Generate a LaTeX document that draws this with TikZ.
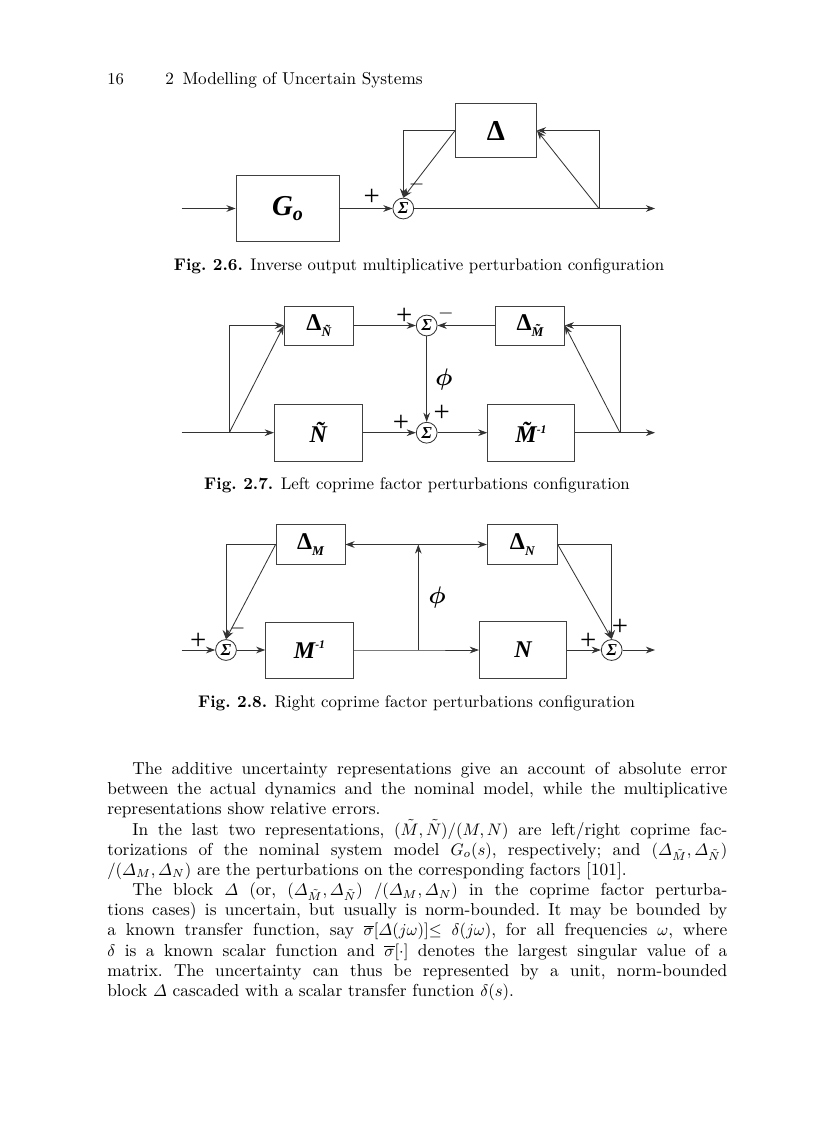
\documentclass[tikz,border=0pt]{standalone}
\usepackage{amsmath,amssymb,bm}
\usepackage{fontspec}
\newfontfamily\dfont{Liberation Serif}
\usepackage{tikz}
\usetikzlibrary{arrows.meta,positioning,calc}

\begin{document}
\begin{tikzpicture}[x=0.6pt,y=-0.6pt,>={Stealth[length=5.5pt,width=4pt]},
 sig/.style={line width=0.5pt,draw=black!80},
 blk/.style={draw=black!75,line width=0.5pt,inner sep=0pt,font=\dfont\bfseries},
 sumnode/.style={circle,draw=black!80,line width=0.5pt,minimum size=12.5pt,inner sep=0pt,font=\dfont\bfseries\itshape\normalsize},
 sgn/.style={font=\dfont\large,inner sep=0pt},
 figcap/.style={font=\fontsize{10.1}{12}\selectfont,inner sep=0pt,anchor=base}]
 \fill[white] (0,0) rectangle (816,1123);
 \useasboundingbox (0,0) rectangle (816,1123);
 % running head
 \node[anchor=base west,inner sep=0pt] (pgno) at (107,84) {16};
 \node[anchor=base west,inner sep=0pt,font=\fontsize{10.3}{12}\selectfont] (head) at (165,84) {2\enspace Modelling of Uncertain Systems};

 % Fig. 2.6
 \node[blk,minimum width=61.8pt,minimum height=40pt] (Go) at (287.5,208.5) {\itshape\LARGE G\raisebox{-0.35ex}{\large o}};
 \node[blk,minimum width=48.6pt,minimum height=32.6pt] (Dl) at (496,130.5) {\LARGE Δ};
 \node[sumnode] (s1) at (403.3,208.5) {Σ};
 \coordinate (in1) at (181.7,208.5);
 \coordinate (br1) at (599,208.5);
 \coordinate (out1) at (655,208.5);
 \draw[sig,->] (in1) -- (Go);
 \draw[sig,->] (Go) -- (s1);
 \draw[sig,->] (s1) -- (br1) -- (out1);
 \draw[sig,->] (br1) |- (Dl.east);
 \draw[sig,->] (br1) -- (Dl.east);
 \draw[sig,->] (Dl.west) -| (s1.north);
 \draw[sig,->] (Dl.west) -- (s1.north);
 \node[sgn] (p1) at (371.7,197.7) {\LARGE +};
 \node[sgn] (m1) at (416.7,184) {$-$};
 \node[figcap] (cap1) at (419,270) {\textbf{Fig.\ 2.6.} Inverse output multiplicative perturbation configuration};

 % Fig. 2.7
 \node[blk,minimum width=41.4pt,minimum height=23.4pt] (DNt) at (318.8,325.5) {\Large Δ\raisebox{-0.5ex}{\footnotesize\itshape\~{N}}};
 \node[blk,minimum width=41.2pt,minimum height=23.4pt] (DMt) at (530,325.5) {\Large Δ\raisebox{-0.5ex}{\footnotesize\itshape\~{M}}};
 \node[blk,minimum width=52.8pt,minimum height=34pt] (Nt) at (318.3,432.7) {\Large\itshape\~{N}};
 \node[blk,minimum width=52pt,minimum height=34pt] (Mti) at (531,432.7) {\Large\itshape\~{M}\raisebox{0.9ex}{\scriptsize -1}};
 \node[sumnode] (s2) at (426.7,325.5) {Σ};
 \node[sumnode] (s3) at (426.7,432.7) {Σ};
 \coordinate (in2) at (181.7,432.7);
 \coordinate (br2) at (229.3,432.7);
 \coordinate (br3) at (620,432.7);
 \coordinate (out2) at (655,432.7);
 \draw[sig] (in2) -- (br2);
 \draw[sig,->] (br2) -- (Nt);
 \draw[sig,->] (br2) |- (DNt.west);
 \draw[sig,->] (br2) -- (DNt.west);
 \draw[sig,->] (DNt) -- (s2);
 \draw[sig,->] (DMt) -- (s2);
 \draw[sig,->] (s2) -- node[right=5pt,inner sep=0pt] (phi1) {\Large$\bm{\phi}$} (s3);
 \draw[sig,->] (Nt) -- (s3);
 \draw[sig,->] (s3) -- (Mti);
 \draw[sig,->] (Mti) -- (br3) -- (out2);
 \draw[sig,->] (br3) |- (DMt.east);
 \draw[sig,->] (br3) -- (DMt.east);
 \node[sgn] (p2) at (404.3,316.7) {\LARGE +};
 \node[sgn] (m2) at (446,313) {$-$};
 \node[sgn] (p3) at (441.7,413.3) {\LARGE +};
 \node[sgn] (p4) at (401,423.3) {\LARGE +};
 \node[figcap] (cap2) at (417,489) {\textbf{Fig.\ 2.7.} Left coprime factor perturbations configuration};

 % Fig. 2.8
 \node[blk,minimum width=41.4pt,minimum height=23.6pt] (DM) at (310.5,544.5) {\Large Δ\raisebox{-0.5ex}{\footnotesize\itshape M}};
 \node[blk,minimum width=42pt,minimum height=23.6pt] (DN) at (522.3,544.5) {\Large Δ\raisebox{-0.5ex}{\footnotesize\itshape N}};
 \node[blk,minimum width=52.6pt,minimum height=33.6pt] (Mi) at (309.5,650) {\Large\itshape M\raisebox{0.9ex}{\scriptsize -1}};
 \node[blk,minimum width=52.4pt,minimum height=34.2pt] (Nn) at (523,650) {\Large\itshape N};
 \node[sumnode] (s4) at (226,650) {Σ};
 \node[sumnode] (s5) at (611.7,650) {Σ};
 \coordinate (in3) at (181.7,650);
 \coordinate (br4) at (418.3,650);
 \coordinate (tp) at (418.3,544.5);
 \coordinate (out3) at (655,650);
 \draw[sig,->] (in3) -- (s4);
 \draw[sig,->] (s4) -- (Mi);
 \draw[sig,->] (Mi) -- (br4) -- (Nn);
 \draw[sig,->] (br4) -- node[right=6pt,inner sep=0pt] (phi2) {\Large$\bm{\phi}$} (tp);
 \draw[sig,->] (tp) -- (DM);
 \draw[sig,->] (tp) -- (DN);
 \draw[sig,->] (DM.west) -| (s4.north);
 \draw[sig,->] (DM.west) -- (s4.north);
 \draw[sig,->] (DN.east) -| (s5.north);
 \draw[sig,->] (DN.east) -- (s5.north);
 \draw[sig,->] (Nn) -- (s5);
 \draw[sig,->] (s5) -- (out3);
 \node[sgn] (p5) at (198.3,641.7) {\LARGE +};
 \node[sgn] (m3) at (237.7,628.3) {$-$};
 \node[sgn] (p6) at (620,627.7) {\LARGE +};
 \node[sgn] (p7) at (588.3,641) {\LARGE +};
 \node[figcap] (cap3) at (416.5,707) {\textbf{Fig.\ 2.8.} Right coprime factor perturbations configuration};

 % body text
 \node[anchor=north west,inner sep=0pt,text width=372pt,align=justify,font=\fontsize{10.4}{12.1}\selectfont] (body) at (107,762) {%
  \frenchspacing\setlength{\parindent}{15pt}\indent
  The additive uncertainty representations give an account of absolute error\linebreak
  between the actual dynamics and the nominal model, while the multiplicative\linebreak
  representations show relative errors.\par
  \indent In the last two representations, $(\tilde M,\tilde N)/(M,N)$ are left/right coprime fac-\linebreak
  torizations of the nominal system model $G_o(s)$, respectively; and $(\varDelta_{\tilde M},\varDelta_{\tilde N})$\linebreak
  $/(\varDelta_M,\varDelta_N)$ are the perturbations on the corresponding factors [101].\par
  \indent The block $\varDelta$ (or, $(\varDelta_{\tilde M},\varDelta_{\tilde N})$ $/(\varDelta_M,\varDelta_N)$ in the coprime factor perturba-\linebreak
  tions cases) is uncertain, but usually is norm-bounded. It may be bounded by\linebreak
  a known transfer function, say $\overline{\sigma}[\varDelta(j\omega)]{\leq}$ $\delta(j\omega)$, for all frequencies $\omega$, where\linebreak
  $\delta$ is a known scalar function and $\overline{\sigma}[\cdot]$ denotes the largest singular value of a\linebreak
  matrix. The uncertainty can thus be represented by a unit, norm-bounded\linebreak
  block $\varDelta$ cascaded with a scalar transfer function $\delta(s)$.};
\end{tikzpicture}
\end{document}
